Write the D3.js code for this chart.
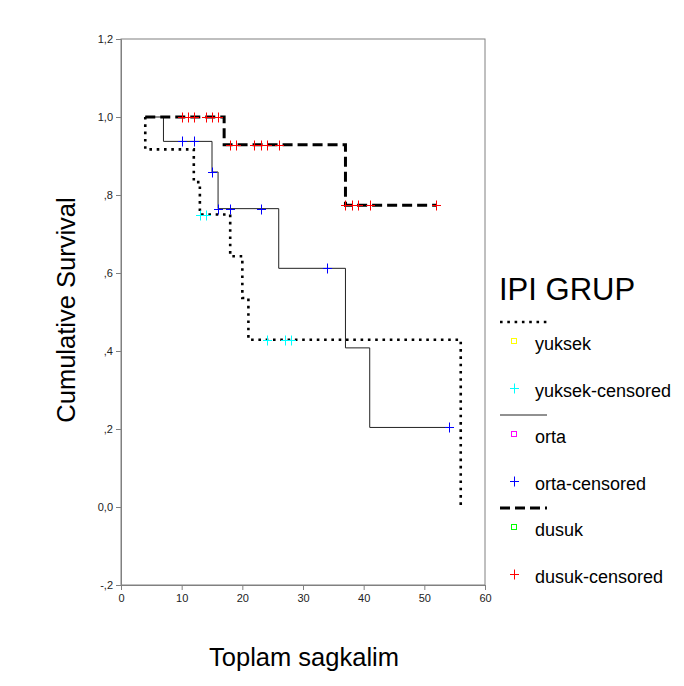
<!DOCTYPE html>
<html lang="en">
    <head>
        <meta charset="utf-8">
        <title>Kaplan-Meier: IPI GRUP</title>
        <script src="https://d3js.org/d3.v7.min.js"></script>
        <style type="text/css">
            body { margin: 0; background: #fff; }
            text { font-family: Arial, "Liberation Sans", sans-serif; }
        </style>
    </head>
    <body>
        <svg id="km_chart" width="684" height="686"></svg>
        <script>
            // step curves: time of each step and survival after it
            var yuksekTimes = [4, 4, 12, 13, 18, 20, 21, 56];
            var yuksekSurv  = [1.0, 0.917, 0.833, 0.75, 0.643, 0.536, 0.429, 0.0];
            var ortaTimes   = [4, 7, 15, 16, 26, 37, 41, 54];
            var ortaSurv    = [1.0, 0.9375, 0.859, 0.765, 0.612, 0.408, 0.204, 0.204];
            var dusukTimes  = [4, 17, 37, 52];
            var dusukSurv   = [1.0, 0.929, 0.774, 0.774];

            // censored cases
            var yuksekCensTimes = [13, 14, 24, 27, 28];
            var yuksekCensSurv  = [0.75, 0.75, 0.429, 0.429, 0.429];
            var ortaCensTimes   = [10, 12, 15, 16, 18, 23, 34, 54];
            var ortaCensSurv    = [0.9375, 0.9375, 0.859, 0.765, 0.765, 0.765, 0.612, 0.204];
            var dusukCensTimes  = [10, 11, 12, 14, 15, 16, 18, 19, 22, 23, 24, 26, 37, 38, 39, 41, 52];
            var dusukCensSurv   = [1, 1, 1, 1, 1, 1, 0.929, 0.929, 0.929, 0.929, 0.929, 0.929,
                                   0.774, 0.774, 0.774, 0.774, 0.774];

            var xTicks = [0, 10, 20, 30, 40, 50, 60];
            var yTicks = [-0.2, 0, 0.2, 0.4, 0.6, 0.8, 1.0, 1.2];
            var yTickLabels = ['-,2', '0,0', ',2', ',4', ',6', ',8', '1,0', '1,2'];

            var legendNames = ['yuksek', 'yuksek-censored', 'orta', 'orta-censored', 'dusuk', 'dusuk-censored'];

            var svg = d3.select('#km_chart');

            var xScale = d3.scaleLinear().domain([0, 60]).range([121, 485]);
            var yScale = d3.scaleLinear().domain([-0.2, 1.2]).range([585, 39]);

            //plot frame
            svg.append('rect')
                .attr('x', 121).attr('y', 39)
                .attr('width', 364).attr('height', 546)
                .attr('fill', 'none')
                .attr('stroke', '#808080')
                .attr('stroke-width', 1);

            //axes
            var xAxis = d3.axisBottom(xScale).tickValues(xTicks).tickSize(5).tickPadding(4);
            var yAxis = d3.axisLeft(yScale).tickValues(yTicks).tickSize(5).tickPadding(3)
                            .tickFormat(function(d, i) { return yTickLabels[i]; });

            var gx = svg.append('g')
                .attr('transform', 'translate(0,585)')
                .call(xAxis);
            var gy = svg.append('g')
                .attr('transform', 'translate(121,0)')
                .call(yAxis);

            [gx, gy].forEach(function(g) {
                g.select('.domain').attr('stroke', '#808080');
                g.selectAll('.tick line').attr('stroke', '#808080');
                g.selectAll('.tick text')
                    .attr('fill', '#222')
                    .style('font-size', '11px')
                    .style('font-family', 'Arial, "Liberation Sans", sans-serif');
            });

            //axis titles
            svg.append('text')
                .attr('x', 304).attr('y', 666)
                .attr('text-anchor', 'middle')
                .style('font-size', '25.5px')
                .text('Toplam sagkalim');

            svg.append('text')
                .attr('transform', 'translate(75,310) rotate(-90)')
                .attr('text-anchor', 'middle')
                .style('font-size', '25.5px')
                .text('Cumulative Survival');

            var step = d3.line()
                .x(function(d) { return xScale(d[0]); })
                .y(function(d) { return yScale(d[1]); })
                .curve(d3.curveStepAfter);

            var styles = {
                yuksek: { width: 2.6, dash: '2.6,4.7', color: '#000' },
                orta:   { width: 1,   dash: null,      color: '#222' },
                dusuk:  { width: 3,   dash: '10,5',    color: '#000' }
            };

            function drawCurve(times, surv, st) {
                svg.append('path')
                    .datum(d3.zip(times, surv))
                    .attr('d', step)
                    .attr('fill', 'none')
                    .attr('stroke', st.color)
                    .attr('stroke-width', st.width)
                    .attr('stroke-dasharray', st.dash);
            }

            drawCurve(ortaTimes, ortaSurv, styles.orta);
            drawCurve(yuksekTimes, yuksekSurv, styles.yuksek);
            drawCurve(dusukTimes, dusukSurv, styles.dusuk);

            function plus(g, cx, cy, color) {
                g.append('line')
                    .attr('x1', cx - 4.5).attr('x2', cx + 4.5)
                    .attr('y1', cy).attr('y2', cy)
                    .attr('stroke', color)
                    .attr('stroke-width', 1);
                g.append('line')
                    .attr('x1', cx).attr('x2', cx)
                    .attr('y1', cy - 5).attr('y2', cy + 5)
                    .attr('stroke', color)
                    .attr('stroke-width', 1);
            }

            function drawCensors(times, surv, color) {
                var g = svg.append('g');
                for (var i = 0; i < times.length; i++) {
                    plus(g, Math.round(xScale(times[i])) + 0.5, Math.round(yScale(surv[i])) + 0.5, color);
                }
            }

            drawCensors(yuksekCensTimes, yuksekCensSurv, '#00ffff');
            drawCensors(ortaCensTimes, ortaCensSurv, '#0000ff');
            drawCensors(dusukCensTimes, dusukCensSurv, '#ff0000');

            //legend
            var legend = svg.append('g');
            legend.append('text')
                .attr('x', 499).attr('y', 300)
                .style('font-size', '31px')
                .text('IPI GRUP');

            var groupKeys = ['yuksek', 'orta', 'dusuk'];
            var markColors = ['#ffff00', '#ff00ff', '#00ff00'];
            var censColors = ['#00ffff', '#0000ff', '#ff0000'];

            groupKeys.forEach(function(k, i) {
                var y0 = 322 + i * 93;
                var st = styles[k];
                legend.append('line')
                    .attr('x1', 500).attr('x2', 547)
                    .attr('y1', y0).attr('y2', y0)
                    .attr('stroke', st.color)
                    .attr('stroke-width', st.width)
                    .attr('stroke-dasharray', st.dash);

                legend.append('rect')
                    .attr('x', 511.5).attr('y', y0 + 16.5)
                    .attr('width', 5).attr('height', 5)
                    .attr('fill', 'none')
                    .attr('stroke', markColors[i])
                    .attr('stroke-width', 1);
                legend.append('text')
                    .attr('x', 535).attr('y', y0 + 28)
                    .style('font-size', '18px')
                    .text(legendNames[i * 2]);

                plus(legend, 514.5, y0 + 66.5, censColors[i]);
                legend.append('text')
                    .attr('x', 535).attr('y', y0 + 74.5)
                    .style('font-size', '18px')
                    .text(legendNames[i * 2 + 1]);
            });
        </script>
    </body>
</html>
